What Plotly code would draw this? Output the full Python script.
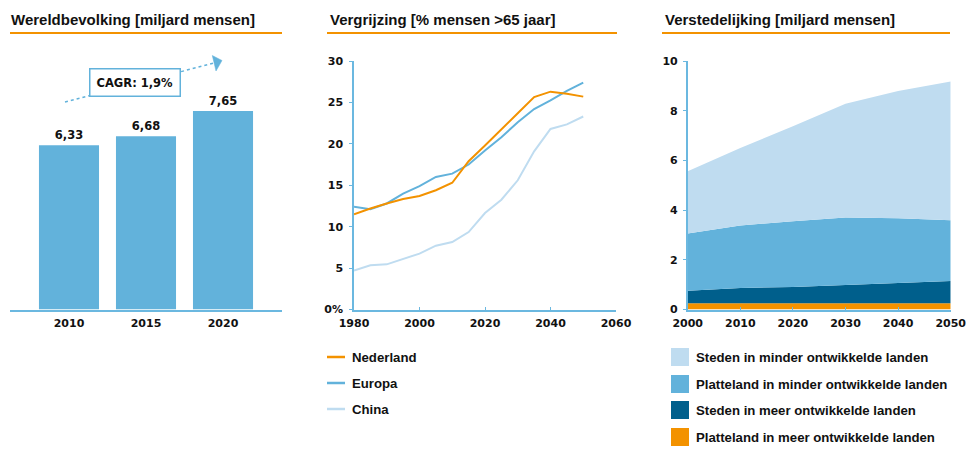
import plotly.graph_objects as go

W, H = 968, 458

# ---------------- data ----------------
pop_years = ["2010", "2015", "2020"]
pop_values = [6.33, 6.68, 7.65]
cagr_label = "CAGR: 1,9%"

age_years = [1980, 1985, 1990, 1995, 2000, 2005, 2010, 2015, 2020, 2025, 2030, 2035, 2040, 2045, 2050]
age_nederland = [11.5, 12.2, 12.8, 13.35, 13.7, 14.4, 15.3, 17.9, 19.8, 21.8, 23.7, 25.65, 26.3, 26.05, 25.7]
age_europa = [12.4, 12.1, 12.8, 14.0, 14.9, 16.0, 16.4, 17.5, 19.2, 20.8, 22.6, 24.2, 25.25, 26.4, 27.4]
age_china = [4.7, 5.35, 5.45, 6.1, 6.75, 7.7, 8.15, 9.35, 11.65, 13.25, 15.6, 19.1, 21.8, 22.35, 23.3]
age_yticks = [0, 5, 10, 15, 20, 25, 30]
age_yticktext = ["0%", "5", "10", "15", "20", "25", "30"]
age_xticks = [1980, 2000, 2020, 2040, 2060]

urb_years = [2000, 2010, 2020, 2030, 2040, 2050]
urb_platteland_meer = [0.25, 0.25, 0.25, 0.25, 0.25, 0.25]
urb_steden_meer = [0.50, 0.62, 0.66, 0.73, 0.81, 0.90]
urb_platteland_minder = [2.31, 2.51, 2.64, 2.72, 2.61, 2.44]
urb_steden_minder = [2.50, 3.12, 3.82, 4.58, 5.12, 5.59]
urb_yticks = [0, 2, 4, 6, 8, 10]
urb_xticks = [2000, 2010, 2020, 2030, 2040, 2050]

titles = ["Wereldbevolking [miljard mensen]",
          "Vergrijzing [% mensen >65 jaar]",
          "Verstedelijking [miljard mensen]"]
line_names = ["Nederland", "Europa", "China"]
area_names = ["Steden in minder ontwikkelde landen",
              "Platteland in minder ontwikkelde landen",
              "Steden in meer ontwikkelde landen",
              "Platteland in meer ontwikkelde landen"]

# ---------------- style ----------------
ORANGE = "#F39200"
MID = "#62B2DB"
LIGHT = "#BFDCF0"
DARK = "#005F8C"
AXIS = "#6BB8E0"
TXT = "#111111"
TICKFONT = dict(family="DejaVu Sans", size=11, color=TXT, weight="bold")
TITLEFONT = dict(family="Liberation Sans, sans-serif", size=15, color=TXT, weight="bold")
LEGFONT = dict(family="Liberation Sans, sans-serif", size=13.2, color=TXT, weight="bold")


def px(x):
    return x / W


def py(y):
    return 1 - y / H


fig = go.Figure()

# Panel 1: bars
fig.add_trace(go.Bar(x=pop_years, y=pop_values, marker_color=MID, marker_line_width=0, width=0.78,
                     texttemplate="%{y:.2f}", textposition="outside",
                     textfont=dict(family="DejaVu Sans", size=11.5, color=TXT, weight="bold"),
                     cliponaxis=False, showlegend=False, xaxis="x", yaxis="y"))

# Panel 2: lines
for name, vals, col in [("China", age_china, LIGHT), ("Europa", age_europa, MID),
                        ("Nederland", age_nederland, ORANGE)]:
    fig.add_trace(go.Scatter(x=age_years, y=vals, mode="lines", name=name,
                             line=dict(color=col, width=2), showlegend=False,
                             xaxis="x2", yaxis="y2"))

# Panel 3: stacked areas
for name, vals, col in [(area_names[3], urb_platteland_meer, ORANGE),
                        (area_names[2], urb_steden_meer, DARK),
                        (area_names[1], urb_platteland_minder, MID),
                        (area_names[0], urb_steden_minder, LIGHT)]:
    fig.add_trace(go.Scatter(x=urb_years, y=vals, mode="lines", name=name, stackgroup="urb",
                             line=dict(width=0, color=col), fillcolor=col,
                             showlegend=False, xaxis="x3", yaxis="y3"))

y_dom = [py(309.5), py(61)]
axis_common = dict(showline=True, linecolor=AXIS, linewidth=1.5, tickcolor=AXIS, ticklen=3,
                   showgrid=False, zeroline=False, tickfont=TICKFONT, automargin=False,
                   fixedrange=True)

fig.update_layout(
    width=W, height=H, margin=dict(l=0, r=0, t=0, b=0, pad=0, autoexpand=False),
    paper_bgcolor="white", plot_bgcolor="white", showlegend=False,
    separators=",.",
    xaxis=dict(domain=[px(10), px(282)], range=[-0.766, 2.766], type="category",
               showline=True, linecolor=AXIS, linewidth=1.5, ticks="", showgrid=False,
               tickfont=TICKFONT, automargin=False, fixedrange=True, ticklabelstandoff=3),
    yaxis=dict(domain=y_dom, range=[0, 9.575], visible=False, automargin=False, fixedrange=True),
    xaxis2=dict(domain=[px(354), px(616)], range=[1980, 2060], tickvals=age_xticks,
                ticks="inside", anchor="y2", ticklabelstandoff=3, **axis_common),
    yaxis2=dict(domain=y_dom, range=[0, 30], tickvals=age_yticks, ticktext=age_yticktext,
                ticks="outside", anchor="x2", ticklabelstandoff=4, **axis_common),
    xaxis3=dict(domain=[px(687.7), px(950.7)], range=[2000, 2050], tickvals=urb_xticks,
                ticks="inside", anchor="y3", ticklabelstandoff=3, **axis_common),
    yaxis3=dict(domain=y_dom, range=[0, 10], tickvals=urb_yticks,
                ticks="outside", anchor="x3", ticklabelstandoff=3, **axis_common),
)

shapes = []
annotations = []

# Titles with orange underline
for t, x0, lx0, lx1 in zip(titles, [9, 328, 663], [10, 327, 662], [282, 617, 950]):
    annotations.append(dict(text=t, x=px(x0), y=py(19), xref="paper", yref="paper",
                            xanchor="left", yanchor="middle", showarrow=False, font=TITLEFONT))
    shapes.append(dict(type="line", xref="paper", yref="paper", x0=px(lx0), x1=px(lx1),
                       y0=py(33), y1=py(33), line=dict(color=ORANGE, width=2)))

# CAGR dotted arrow and box
shapes.append(dict(type="line", xref="paper", yref="paper", x0=px(65), y0=py(102),
                   x1=px(214), y1=py(63), line=dict(color=MID, width=1.5, dash="dot")))
shapes.append(dict(type="path", xref="paper", yref="paper",
                   path=f"M{px(212.3)},{py(55.5)} L{px(222)},{py(60.5)} L{px(216)},{py(71)} Z",
                   fillcolor=MID, line=dict(color=MID, width=0.5)))
annotations.append(dict(text=cagr_label, x=px(135), y=py(82.5), xref="paper", yref="paper",
                        xanchor="center", yanchor="middle",
                        showarrow=False, bgcolor="white", bordercolor=MID, borderwidth=1.5,
                        borderpad=6, font=dict(family="DejaVu Sans", size=11.5, color=TXT, weight="bold")))

# Legend panel 2
for name, col, yy in zip(line_names, [ORANGE, MID, LIGHT], [357, 383, 409]):
    shapes.append(dict(type="line", xref="paper", yref="paper", x0=px(327), x1=px(345),
                       y0=py(yy), y1=py(yy), line=dict(color=col, width=2.5)))
    annotations.append(dict(text=name, x=px(350), y=py(yy), xref="paper", yref="paper",
                            xanchor="left", yanchor="middle", showarrow=False, font=LEGFONT))

# Legend panel 3
for name, col, yy in zip(area_names, [LIGHT, MID, DARK, ORANGE], [357, 384, 410, 437]):
    shapes.append(dict(type="rect", xref="paper", yref="paper", x0=px(671), x1=px(689),
                       y0=py(yy - 9), y1=py(yy + 9), fillcolor=col, line=dict(width=0)))
    annotations.append(dict(text=name, x=px(694), y=py(yy), xref="paper", yref="paper",
                            xanchor="left", yanchor="middle", showarrow=False, font=LEGFONT))

fig.update_layout(shapes=shapes, annotations=annotations)

# remove the browser's default page margin so the 968x458 figure fills the window exactly
fig.write_html("out.html",
               config={"displayModeBar": False},
               post_script="document.body.style.margin='0';document.body.style.overflow='hidden';")
